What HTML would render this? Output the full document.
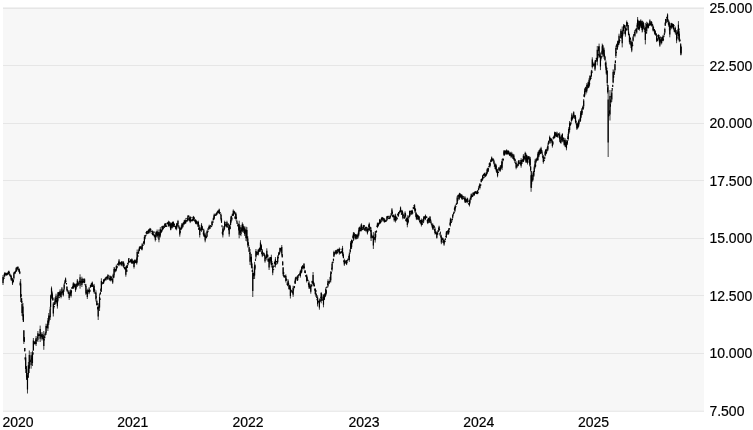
<!DOCTYPE html>
<html><head><meta charset="utf-8"><style>
html,body{margin:0;padding:0;background:#fff;width:753px;height:430px;overflow:hidden}
svg{display:block;will-change:transform}
text{font-family:"Liberation Sans",sans-serif;font-size:14px;fill:#000;stroke:#000;stroke-width:0.2}
</style></head><body>
<svg width="753" height="430" viewBox="0 0 753 430">
<rect x="3" y="7" width="701" height="1" fill="#f1f1f1"/><rect x="3" y="8" width="701" height="404" fill="#f7f7f7"/>
<rect x="3" y="8" width="701" height="1" fill="#e6e6e6"/><rect x="3" y="65" width="701" height="1" fill="#e6e6e6"/><rect x="3" y="123" width="701" height="1" fill="#e6e6e6"/><rect x="3" y="180" width="701" height="1" fill="#e6e6e6"/><rect x="3" y="238" width="701" height="1" fill="#e6e6e6"/><rect x="3" y="295" width="701" height="1" fill="#e6e6e6"/><rect x="3" y="353" width="701" height="1" fill="#e6e6e6"/><rect x="3" y="410" width="701" height="1" fill="#f2f2f2"/><rect x="3" y="411" width="701" height="1" fill="#ebebeb"/>
<path d="M3.00 275.00V285.00M3.45 279.17V279.92M3.91 276.36V278.96M4.36 273.50V277.00M4.81 272.00V276.66M5.27 274.00V274.89M5.72 272.66V274.90M6.17 273.13V275.36M6.63 273.36V275.43M7.08 272.60V275.30M7.53 272.76V274.66M7.99 272.40V274.60M8.44 271.21V274.36M8.89 270.50V274.00M9.35 271.99V273.40M9.80 273.05V276.16M10.25 274.88V276.27M10.71 274.95V276.70M11.16 274.80V280.70M11.61 277.53V279.21M12.07 278.67V281.09M12.52 278.00V285.00M12.97 281.09V282.73M13.43 279.42V281.67M13.88 272.60V279.60M14.33 271.72V273.54M14.79 272.20V274.17M15.24 271.23V273.73M15.69 270.86V272.00M16.15 267.30V272.00M16.60 268.86V271.40M17.05 266.72V269.12M17.51 266.97V268.14M17.96 266.20V270.04M18.41 269.42V270.38M18.87 270.35V271.50M19.32 268.40V272.60M19.77 271.36V274.15M20.23 281.24V285.72M20.68 279.00V302.00M21.13 294.07V296.91M21.59 297.93V302.93M22.04 301.00V316.00M22.49 308.62V309.56M22.95 303.00V320.00M23.40 314.24V321.94M23.85 330.00V344.00M24.31 337.00V342.00M24.76 347.97V351.77M25.21 357.21V360.37M25.67 353.50V373.00M26.12 366.29V369.04M26.57 366.00V380.00M27.02 375.88V379.45M27.48 373.00V393.50M27.93 375.09V377.32M28.38 362.00V378.00M28.84 367.12V368.96M29.29 350.50V373.00M29.74 360.97V361.57M30.20 360.87V361.89M30.65 359.56V361.65M31.10 352.00V368.70M31.56 357.79V358.71M32.01 358.26V360.16M32.46 350.70V366.00M32.92 352.08V354.80M33.37 338.00V350.59M33.82 341.08V344.25M34.28 342.08V343.13M34.73 342.59V343.77M35.18 340.88V344.66M35.64 339.23V341.06M36.09 336.00V346.00M36.54 339.98V340.74M37.00 339.79V340.87M37.45 336.96V338.34M37.90 331.00V342.00M38.36 334.87V336.12M38.81 333.81V335.83M39.26 334.36V335.95M39.72 333.99V334.86M40.17 325.60V342.00M40.62 332.68V333.43M41.08 333.94V336.31M41.53 335.39V336.95M41.98 332.00V340.50M42.44 334.26V337.56M42.89 337.09V338.73M43.34 338.29V340.27M43.80 331.00V349.80M44.25 339.06V340.45M44.70 336.11V338.45M45.16 332.61V335.77M45.61 332.29V333.46M46.06 323.70V335.00M46.52 325.93V327.95M46.97 325.77V328.07M47.42 323.76V326.70M47.88 318.00V331.00M48.33 321.02V323.59M48.78 313.00V325.00M49.24 316.95V320.77M49.69 315.95V317.51M50.14 306.80V320.00M50.60 295.60V310.00M51.05 294.09V298.47M51.50 286.50V295.60M51.96 290.79V296.30M52.41 293.50V300.00M52.86 297.51V300.84M53.32 302.00V316.50M53.77 306.92V308.83M54.22 306.03V306.90M54.68 301.42V305.24M55.13 297.00V304.00M55.58 298.38V300.74M56.04 293.70V304.00M56.49 298.12V299.15M56.94 299.75V302.61M57.40 297.40V308.60M57.85 292.40V302.29M58.30 291.92V294.78M58.76 292.46V297.14M59.21 296.66V298.19M59.66 291.78V295.61M60.12 289.20V297.00M60.57 293.77V295.35M61.02 291.90V298.40M61.48 292.08V293.43M61.93 287.00V295.00M62.38 291.34V292.50M62.84 290.70V292.14M63.29 290.00V296.50M63.74 288.78V291.70M64.20 283.30V290.00M64.65 282.24V283.93M65.10 279.90V283.01M65.56 277.50V282.80M66.01 280.61V281.48M66.46 282.95V284.73M66.92 286.00V291.40M67.37 289.16V291.49M67.82 290.21V291.81M68.28 290.77V293.69M68.73 292.99V293.93M69.18 290.30V300.00M69.64 294.23V295.57M70.09 294.36V295.46M70.54 289.70V294.10M71.00 289.50V297.50M71.45 290.33V293.24M71.90 287.00V288.73M72.35 286.94V288.76M72.81 285.78V287.03M73.26 282.30V288.76M73.71 282.66V287.38M74.17 284.65V287.09M74.62 283.63V285.93M75.07 285.13V288.31M75.53 283.90V291.90M75.98 286.04V289.76M76.43 283.25V287.56M76.89 283.97V285.76M77.34 279.00V287.00M77.79 283.29V284.79M78.25 284.10V285.62M78.70 281.90V284.46M79.15 280.64V281.91M79.61 281.42V282.47M80.06 274.30V288.70M80.51 281.74V283.30M80.97 280.73V281.95M81.42 281.80V282.72M81.87 276.70V287.00M82.33 281.34V283.28M82.78 278.44V282.98M83.23 278.55V279.89M83.69 279.49V282.43M84.14 281.50V283.36M84.59 278.30V283.00M85.05 283.88V285.31M85.50 285.18V286.96M85.95 283.90V295.00M86.41 291.46V293.99M86.86 290.10V291.08M87.31 288.70V299.00M87.77 292.57V293.38M88.22 290.04V292.03M88.67 290.33V291.97M89.13 287.00V294.30M89.58 290.85V291.95M90.03 289.72V291.62M90.49 284.67V288.02M90.94 285.03V287.16M91.39 282.89V285.37M91.85 283.64V287.00M92.30 281.50V287.00M92.75 285.38V286.60M93.21 284.58V285.98M93.66 286.40V291.79M94.11 283.90V293.50M94.57 289.12V290.75M95.02 292.52V293.92M95.47 292.62V293.43M95.93 290.30V301.50M96.38 296.67V297.91M96.83 299.59V305.62M97.29 303.48V304.97M97.74 306.91V309.71M98.19 303.00V320.00M98.65 306.38V309.04M99.10 304.59V305.55M99.55 293.50V311.00M100.01 298.14V299.90M100.46 292.03V294.52M100.91 288.55V291.61M101.37 278.30V292.00M101.82 283.64V284.46M102.27 282.25V284.26M102.73 281.79V282.62M103.18 282.66V283.76M103.63 279.00V283.90M104.09 279.42V281.50M104.54 279.26V281.50M104.99 278.23V279.81M105.45 277.44V279.61M105.90 278.85V280.84M106.35 276.73V278.88M106.81 276.68V277.38M107.26 277.38V278.30M107.71 274.30V280.00M108.17 276.41V277.11M108.62 274.76V275.69M109.07 276.72V280.04M109.53 278.39V280.62M109.98 275.44V277.01M110.43 276.64V280.48M110.89 275.90V281.50M111.34 276.38V277.84M111.79 276.79V280.04M112.25 279.30V280.55M112.70 277.50V283.90M113.15 273.64V277.28M113.61 275.78V278.39M114.06 267.00V277.50M114.51 267.49V270.71M114.97 270.31V272.55M115.42 269.01V271.08M115.87 269.09V271.83M116.33 264.60V271.00M116.78 266.34V268.93M117.23 266.27V267.57M117.68 263.70V265.05M118.14 263.12V265.46M118.59 261.72V264.55M119.04 259.00V266.20M119.50 261.95V263.96M119.95 262.96V264.96M120.40 262.95V264.30M120.86 262.05V263.75M121.31 261.40V266.20M121.76 261.40V263.05M122.22 261.40V262.98M122.67 263.04V266.42M123.12 261.40V264.47M123.58 261.40V267.80M124.03 263.28V266.36M124.48 266.74V269.35M124.94 267.20V267.80M125.39 267.83V269.56M125.84 267.00V276.70M126.30 265.75V270.17M126.75 269.04V272.05M127.20 264.70V268.24M127.66 262.64V264.29M128.11 263.21V265.33M128.56 258.20V263.18M129.02 258.34V259.59M129.47 261.06V261.67M129.92 261.78V262.56M130.38 259.49V261.87M130.83 259.00V262.20M131.28 260.93V262.28M131.74 258.40V264.00M132.19 258.90V263.11M132.64 262.80V263.40M133.10 261.15V263.95M133.55 260.56V262.71M134.00 260.60V268.60M134.46 260.45V264.00M134.91 259.20V263.20M135.36 259.87V263.14M135.82 261.61V262.90M136.27 260.52V261.48M136.72 257.40V264.60M137.18 249.50V262.40M137.63 253.74V257.28M138.08 255.77V256.51M138.54 250.41V253.83M138.99 248.54V251.16M139.44 246.30V251.20M139.90 247.46V248.91M140.35 245.92V247.94M140.80 246.49V249.02M141.26 246.20V247.82M141.71 247.92V250.11M142.16 243.10V250.30M142.62 244.78V245.96M143.07 244.20V245.71M143.52 241.16V244.21M143.98 242.53V243.59M144.43 235.10V244.70M144.88 236.94V239.53M145.34 234.93V236.94M145.79 234.93V236.27M146.24 232.03V234.50M146.70 231.10V234.30M147.15 230.75V233.16M147.60 233.09V234.10M148.06 230.32V232.77M148.51 229.69V233.52M148.96 228.94V231.26M149.42 229.49V230.50M149.87 227.90V233.50M150.32 228.21V230.80M150.78 228.64V230.58M151.23 230.79V231.64M151.68 230.95V232.49M152.14 232.97V234.32M152.59 230.30V235.11M153.04 233.03V235.61M153.50 233.49V235.41M153.95 231.54V233.08M154.40 234.54V237.52M154.86 235.16V236.59M155.31 232.70V241.50M155.76 239.01V239.66M156.22 231.57V234.59M156.67 231.77V236.91M157.12 229.50V238.30M157.58 233.46V235.98M158.03 231.83V233.72M158.48 232.94V235.54M158.94 229.50V242.30M159.39 235.38V236.32M159.84 233.14V236.55M160.30 227.10V237.50M160.75 229.39V231.70M161.20 230.48V233.20M161.66 229.30V231.98M162.11 226.03V231.31M162.56 228.02V230.06M163.01 225.50V229.50M163.47 227.70V228.66M163.92 225.58V227.46M164.37 227.42V228.03M164.83 223.57V226.78M165.28 223.10V227.12M165.73 223.12V225.10M166.19 225.06V226.81M166.64 225.59V226.76M167.09 222.59V224.09M167.55 222.54V223.93M168.00 223.33V224.47M168.45 220.70V226.30M168.91 224.77V226.98M169.36 221.27V224.95M169.81 223.68V226.26M170.27 226.29V227.77M170.72 222.30V230.30M171.17 222.64V228.18M171.63 224.01V226.35M172.08 225.14V228.54M172.53 221.76V227.17M172.99 221.62V223.72M173.44 221.50V227.10M173.89 225.75V227.29M174.35 223.27V225.70M174.80 225.98V226.74M175.25 225.96V226.92M175.71 225.74V229.51M176.16 225.67V228.51M176.61 223.10V230.30M177.07 222.80V227.34M177.52 223.18V225.13M177.97 219.90V225.50M178.43 225.24V227.31M178.88 227.45V228.68M179.33 227.13V228.23M179.79 225.50V236.70M180.24 230.60V232.96M180.69 228.45V230.20M181.15 227.21V230.07M181.60 224.99V228.64M182.05 223.10V228.70M182.51 223.99V226.06M182.96 224.08V227.41M183.41 222.02V224.33M183.87 224.30V225.13M184.32 220.32V224.30M184.77 220.63V221.68M185.23 219.10V223.90M185.68 220.64V223.47M186.13 217.88V218.78M186.59 219.76V221.92M187.04 220.24V221.26M187.49 218.14V221.39M187.95 215.00V220.70M188.40 215.56V216.86M188.85 215.61V216.40M189.31 217.92V221.21M189.76 216.45V221.14M190.21 216.70V223.10M190.67 216.58V218.42M191.12 219.37V221.39M191.57 220.54V221.14M192.03 217.45V218.40M192.48 219.15V221.39M192.93 218.74V221.05M193.39 215.90V220.70M193.84 216.57V219.04M194.29 217.09V219.27M194.75 218.94V221.33M195.20 220.91V222.55M195.65 219.10V223.90M196.11 220.28V224.31M196.56 220.66V222.55M197.01 221.32V224.54M197.47 222.94V224.40M197.92 224.08V226.73M198.37 220.70V227.10M198.83 225.63V229.83M199.28 227.53V229.78M199.73 224.70V237.50M200.19 228.95V230.56M200.64 229.47V230.39M201.09 227.79V228.89M201.55 223.10V231.90M202.00 226.43V227.47M202.45 226.22V230.36M202.91 228.96V230.02M203.36 231.54V234.93M203.81 228.70V236.70M204.27 233.38V236.39M204.72 235.53V237.12M205.17 232.70V242.30M205.63 235.66V237.79M206.08 236.07V237.57M206.53 236.59V238.08M206.99 230.30V236.74M207.44 231.61V232.88M207.89 228.22V232.43M208.34 227.83V229.71M208.80 226.75V228.55M209.25 224.70V229.50M209.70 226.42V228.46M210.16 227.05V228.49M210.61 225.12V227.09M211.06 225.74V227.28M211.52 226.21V226.81M211.97 220.70V226.30M212.42 223.89V224.49M212.88 220.65V223.07M213.33 217.60V220.24M213.78 215.50V219.82M214.24 213.50V219.10M214.69 215.18V215.85M215.14 214.92V215.87M215.60 213.46V215.82M216.05 214.13V215.94M216.50 212.60V215.00M216.96 212.00V214.64M217.41 211.25V212.91M217.86 210.49V213.60M218.32 209.96V213.28M218.77 210.78V212.83M219.22 208.60V213.34M219.68 211.93V214.29M220.13 212.15V213.01M220.58 214.26V215.23M221.04 213.50V220.70M221.49 218.53V223.04M221.94 225.49V227.21M222.40 231.36V233.83M222.85 226.30V237.50M223.30 230.29V231.84M223.76 229.53V230.84M224.21 226.13V229.86M224.66 220.70V228.70M225.12 221.92V223.54M225.57 223.57V226.08M226.02 225.44V226.27M226.48 223.72V227.52M226.93 220.70V227.10M227.38 223.93V224.53M227.84 225.60V227.63M228.29 223.08V226.26M228.74 226.84V230.46M229.20 224.70V236.70M229.65 224.62V228.39M230.10 226.19V229.37M230.56 219.80V225.38M231.01 215.90V223.10M231.46 215.66V217.61M231.92 216.83V220.65M232.37 213.42V215.96M232.82 214.35V216.13M233.28 209.40V215.90M233.73 211.45V214.55M234.18 210.69V212.55M234.64 211.25V213.68M235.09 215.94V218.97M235.54 212.60V216.66M236.00 212.60V220.70M236.45 216.69V218.84M236.90 219.81V223.93M237.36 222.49V223.55M237.81 224.42V226.63M238.26 223.37V225.78M238.72 224.71V230.69M239.17 220.70V238.30M239.62 226.11V229.69M240.08 229.80V233.12M240.53 233.74V235.12M240.98 225.00V236.20M241.44 228.30V229.96M241.89 229.94V231.50M242.34 222.30V231.90M242.80 223.79V225.56M243.25 225.00V233.00M243.70 226.81V229.77M244.16 227.35V230.24M244.61 226.30V235.90M245.06 231.82V232.85M245.52 229.52V231.84M245.97 226.60V241.00M246.42 234.41V238.25M246.88 227.10V241.50M247.33 236.36V238.62M247.78 236.20V247.50M248.24 242.03V245.46M248.69 245.15V246.32M249.14 246.75V252.10M249.60 252.55V254.02M250.05 249.00V265.00M250.50 256.86V259.43M250.96 257.48V259.17M251.41 253.90V268.30M251.86 262.55V268.29M252.32 269.81V272.01M252.77 266.70V297.00M253.22 276.35V278.94M253.67 273.11V276.70M254.13 271.38V274.29M254.58 261.90V279.00M255.03 264.29V269.83M255.49 258.60V260.94M255.94 249.00V258.70M256.39 253.07V255.51M256.85 251.49V254.70M257.30 253.67V254.67M257.75 251.70V254.60M258.21 249.00V255.50M258.66 249.36V252.24M259.11 248.36V250.84M259.57 247.44V251.97M260.02 248.20V252.09M260.47 240.20V251.50M260.93 243.94V246.54M261.38 245.40V250.64M261.83 251.13V254.07M262.29 249.00V257.10M262.74 253.93V255.67M263.19 254.52V255.86M263.65 252.48V254.08M264.10 253.34V255.02M264.55 254.56V257.11M265.01 255.50V262.70M265.46 258.04V258.81M265.91 255.79V258.30M266.37 253.95V258.07M266.82 248.30V260.30M267.27 254.29V256.85M267.73 254.19V257.27M268.18 258.23V261.88M268.63 260.65V261.25M269.09 257.10V270.00M269.54 257.78V262.25M269.99 261.74V263.95M270.45 256.95V261.76M270.90 258.18V261.89M271.35 254.70V267.50M271.81 261.13V262.11M272.26 262.70V264.47M272.71 263.50V275.20M273.17 266.58V267.71M273.62 268.84V270.17M274.07 265.01V267.01M274.53 261.95V264.42M274.98 260.82V262.02M275.43 257.10V267.50M275.89 262.29V264.89M276.34 261.12V262.12M276.79 260.87V262.10M277.25 261.61V264.26M277.70 255.50V263.50M278.15 255.33V258.61M278.61 252.40V256.09M279.06 251.79V253.04M279.51 252.12V254.52M279.97 247.50V253.10M280.42 249.57V250.42M280.87 247.88V249.17M281.33 248.50V250.82M281.78 245.00V255.50M282.23 253.68V257.44M282.69 260.96V265.49M283.14 267.18V276.00M283.59 271.88V276.29M284.05 275.09V277.41M284.50 275.82V277.51M284.95 275.48V277.55M285.41 275.47V277.20M285.86 274.40V282.50M286.31 278.29V280.61M286.77 278.99V280.22M287.22 282.07V285.03M287.67 284.00V285.79M288.13 279.30V286.50M288.58 282.57V284.75M289.03 284.61V289.68M289.49 285.39V288.48M289.94 284.81V289.77M290.39 285.70V298.50M290.85 289.11V292.65M291.30 290.19V291.18M291.75 290.26V291.56M292.21 291.19V293.09M292.66 291.53V293.41M293.11 285.70V296.90M293.57 289.15V290.77M294.02 286.39V288.48M294.47 285.95V288.15M294.93 280.52V284.04M295.38 277.60V284.00M295.83 277.09V279.16M296.29 276.65V278.39M296.74 277.90V278.50M297.19 277.66V281.00M297.65 275.20V280.91M298.10 275.28V277.62M298.55 274.57V275.90M299.00 274.01V276.07M299.46 274.00V274.60M299.91 272.52V274.40M300.36 269.60V277.60M300.82 270.76V272.51M301.27 270.49V273.52M301.72 266.40V272.80M302.18 266.81V268.82M302.63 265.29V267.67M303.08 266.12V268.64M303.54 265.94V266.78M303.99 263.20V269.60M304.44 266.35V268.29M304.90 270.27V273.03M305.35 270.58V273.26M305.80 275.17V276.56M306.26 274.88V277.34M306.71 274.40V282.50M307.16 276.69V280.88M307.62 279.63V281.12M308.07 279.68V280.66M308.52 282.66V285.21M308.98 280.90V288.90M309.43 284.00V286.55M309.88 285.99V288.84M310.34 285.95V288.56M310.79 284.00V293.70M311.24 284.57V286.78M311.70 284.52V285.41M312.15 280.70V283.89M312.60 281.60V283.51M313.06 272.00V286.50M313.51 281.41V285.15M313.96 282.72V285.89M314.42 284.68V286.41M314.87 288.41V290.80M315.32 288.54V295.30M315.78 289.91V292.56M316.23 292.88V297.03M316.68 297.00V298.02M317.14 298.34V300.50M317.59 295.30V306.50M318.04 300.30V302.72M318.50 301.01V301.93M318.95 301.11V302.72M319.40 298.50V309.70M319.86 299.97V302.07M320.31 298.74V301.50M320.76 296.62V298.24M321.22 292.10V303.30M321.67 294.06V297.55M322.12 295.84V299.46M322.58 299.35V300.40M323.03 299.14V300.88M323.48 294.50V307.30M323.94 294.36V296.81M324.39 295.61V300.07M324.84 293.43V297.41M325.30 293.98V297.00M325.75 287.30V295.55M326.20 289.99V293.96M326.66 287.03V288.31M327.11 286.08V287.50M327.56 283.52V285.08M328.02 279.30V287.30M328.47 282.01V283.17M328.92 281.66V282.26M329.38 280.59V284.07M329.83 280.51V282.19M330.28 276.67V281.21M330.74 271.20V282.50M331.19 271.50V273.85M331.64 267.71V269.48M332.10 261.90V271.50M332.55 262.32V263.58M333.00 261.00V263.15M333.46 258.75V260.86M333.91 250.70V257.10M334.36 253.13V255.20M334.82 252.79V254.25M335.27 251.29V253.64M335.72 250.09V252.32M336.18 249.90V254.72M336.63 251.37V253.56M337.08 249.54V251.74M337.54 250.21V253.71M337.99 248.67V251.33M338.44 250.76V251.36M338.90 249.33V251.68M339.35 247.50V254.70M339.80 248.46V249.70M340.26 251.50V253.77M340.71 251.77V253.83M341.16 252.05V253.21M341.62 250.97V252.94M342.07 248.60V250.83M342.52 245.90V256.30M342.98 252.44V253.95M343.43 253.50V258.38M343.88 260.10V262.38M344.33 258.70V265.90M344.79 260.96V263.63M345.24 260.84V262.40M345.69 261.43V263.82M346.15 259.93V262.04M346.60 260.23V265.10M347.05 261.29V262.82M347.51 259.53V260.93M347.96 258.63V260.54M348.41 258.28V259.80M348.87 255.83V257.86M349.32 252.30V261.90M349.77 252.74V253.73M350.23 249.17V252.55M350.68 241.00V249.39M351.13 242.40V247.53M351.59 239.40V249.00M352.04 240.92V243.44M352.49 240.22V242.67M352.95 235.21V238.02M353.40 232.10V241.00M353.85 232.20V240.20M354.31 232.75V234.64M354.76 234.85V237.55M355.21 233.98V234.85M355.67 234.50V239.40M356.12 234.57V239.40M356.57 234.59V236.89M357.03 236.64V239.06M357.48 234.72V237.36M357.93 233.70V238.60M358.39 231.41V235.40M358.84 228.20V236.20M359.29 227.08V229.87M359.75 226.50V232.10M360.20 228.37V230.03M360.65 229.83V231.32M361.11 224.09V229.84M361.56 223.30V231.30M362.01 226.91V227.68M362.47 227.31V230.04M362.92 228.82V230.24M363.37 224.90V229.70M363.83 225.05V226.81M364.28 225.35V227.60M364.73 227.68V230.83M365.19 226.95V229.41M365.64 226.97V227.80M366.09 226.50V232.10M366.55 227.05V227.90M367.00 227.50V228.36M367.45 228.10V234.50M367.91 229.81V231.92M368.36 228.04V230.83M368.81 224.39V228.71M369.27 222.50V228.23M369.72 226.20V230.95M370.17 226.83V229.76M370.63 230.05V231.73M371.08 227.30V241.00M371.53 233.31V236.29M371.99 234.95V237.48M372.44 236.24V238.20M372.89 237.25V237.85M373.35 232.10V249.00M373.80 238.19V240.06M374.25 237.13V238.90M374.71 237.23V238.07M375.16 231.30V242.60M375.61 231.22V238.21M376.07 230.79V232.58M376.52 230.57V232.49M376.97 225.33V227.00M377.43 222.50V228.10M377.88 223.38V226.90M378.33 222.99V226.38M378.79 222.98V224.51M379.24 222.14V224.32M379.69 219.30V224.10M380.15 218.85V223.65M380.60 220.40V223.20M381.05 220.87V221.98M381.51 217.75V220.33M381.96 216.90V221.70M382.41 217.11V219.01M382.87 217.41V219.52M383.32 219.15V220.91M383.77 218.01V219.82M384.23 219.64V222.41M384.68 218.50V222.50M385.13 220.40V221.77M385.59 220.10V221.78M386.04 220.48V221.47M386.49 220.28V221.17M386.95 216.09V220.90M387.40 215.98V218.39M387.85 215.86V217.65M388.31 215.75V217.10M388.76 216.95V219.08M389.21 218.07V219.17M389.66 216.50V218.79M390.12 215.30V218.50M390.57 215.20V216.98M391.02 213.29V214.73M391.48 214.35V215.60M391.93 208.10V214.64M392.38 211.59V213.49M392.84 214.54V217.37M393.29 214.64V216.49M393.74 215.29V217.43M394.20 214.50V221.70M394.65 219.17V220.16M395.10 217.58V220.24M395.56 213.70V222.50M396.01 219.05V220.67M396.46 216.48V219.06M396.92 218.46V219.66M397.37 217.47V218.60M397.82 213.70V215.45M398.28 213.31V216.90M398.73 211.86V215.33M399.18 212.10V213.55M399.64 210.63V212.40M400.09 210.63V212.92M400.54 206.50V212.10M401.00 210.48V212.07M401.45 213.53V214.95M401.90 209.78V213.82M402.36 210.83V214.08M402.81 212.10V219.30M403.26 214.37V216.22M403.72 214.95V215.67M404.17 215.67V218.71M404.62 216.35V218.13M405.08 211.30V218.50M405.53 213.20V216.11M405.98 218.81V221.37M406.44 218.13V221.97M406.89 217.44V218.91M407.34 215.30V227.30M407.80 218.63V221.01M408.25 218.84V223.46M408.70 216.30V218.75M409.16 215.31V217.26M409.61 210.50V216.90M410.06 212.25V216.23M410.52 211.13V212.18M410.97 210.51V212.81M411.42 210.56V214.90M411.88 210.68V212.18M412.33 209.70V214.50M412.78 212.62V213.49M413.24 207.18V208.99M413.69 206.79V209.24M414.14 204.97V207.38M414.60 204.10V210.50M415.05 208.11V213.01M415.50 208.69V211.34M415.96 211.81V217.16M416.41 213.41V220.10M416.86 214.22V217.48M417.32 214.42V217.25M417.77 216.49V219.99M418.22 215.37V219.79M418.68 217.21V219.15M419.13 216.10V220.90M419.58 220.68V222.26M420.04 219.71V223.32M420.49 220.14V222.75M420.94 220.37V223.98M421.40 218.50V226.50M421.85 220.31V222.19M422.30 223.08V225.00M422.76 218.94V222.95M423.21 222.31V223.23M423.66 216.10V222.50M424.12 217.00V219.65M424.57 216.07V218.24M425.02 216.26V218.04M425.48 214.50V220.10M425.93 216.35V216.95M426.38 216.48V218.08M426.84 216.89V217.51M427.29 219.82V222.52M427.74 218.50V224.10M428.20 222.28V223.15M428.65 217.65V221.53M429.10 218.59V222.16M429.56 219.15V222.93M430.01 216.10V222.50M430.46 219.10V220.77M430.92 219.68V223.57M431.37 223.49V225.05M431.82 223.43V225.73M432.28 225.81V227.78M432.73 223.30V229.70M433.18 226.84V229.91M433.64 225.03V226.30M434.09 225.78V228.17M434.54 229.05V231.00M434.99 227.30V234.50M435.45 230.93V233.61M435.90 232.13V234.26M436.35 233.58V234.48M436.81 231.30V238.60M437.26 231.84V234.55M437.71 233.05V234.78M438.17 230.13V232.41M438.62 228.17V229.97M439.07 225.70V231.30M439.53 228.97V230.27M439.98 233.27V235.83M440.43 231.50V233.31M440.89 234.30V237.43M441.34 235.40V244.20M441.79 237.55V240.82M442.25 238.09V240.09M442.70 237.48V239.78M443.15 238.21V243.08M443.61 239.70V241.47M444.06 238.95V245.80M444.51 241.74V242.41M444.97 240.49V242.24M445.42 238.57V240.00M445.87 235.97V237.19M446.33 231.30V237.80M446.78 231.02V235.01M447.23 231.17V232.13M447.69 230.30V232.68M448.14 232.16V234.33M448.59 228.10V234.65M449.05 230.76V232.48M449.50 228.21V230.29M449.95 222.46V225.72M450.41 217.70V226.50M450.86 218.96V220.69M451.31 221.73V223.12M451.77 219.69V221.61M452.22 218.43V220.10M452.67 214.50V218.50M453.13 213.80V216.08M453.58 212.95V214.11M454.03 211.56V213.48M454.49 207.95V210.49M454.94 205.70V212.10M455.39 204.86V208.65M455.85 206.01V207.30M456.30 202.94V205.09M456.75 203.39V204.22M457.21 196.00V204.10M457.66 199.32V201.14M458.11 194.78V199.05M458.57 194.79V195.94M459.02 196.59V199.78M459.47 192.80V198.40M459.93 193.03V196.31M460.38 194.36V197.60M460.83 194.44V196.55M461.29 195.42V198.26M461.74 194.20V199.00M462.19 195.72V200.00M462.65 196.00V196.66M463.10 196.00V197.37M463.55 196.35V198.61M464.01 197.94V199.31M464.46 198.26V199.75M464.91 196.00V202.50M465.37 198.41V202.72M465.82 199.17V201.93M466.27 199.03V201.80M466.73 200.87V202.28M467.18 197.60V203.30M467.63 197.96V200.19M468.09 200.13V201.88M468.54 203.36V204.32M468.99 203.38V204.68M469.45 199.20V206.50M469.90 199.92V203.93M470.35 197.74V199.46M470.81 195.95V200.13M471.26 193.40V198.20M471.71 194.99V196.92M472.17 194.93V196.87M472.62 194.93V197.14M473.07 192.46V195.68M473.53 193.30V194.13M473.98 192.01V195.03M474.43 191.80V195.80M474.89 191.69V193.82M475.34 191.33V193.47M475.79 191.10V192.87M476.25 190.88V193.87M476.70 192.21V194.19M477.15 192.33V193.75M477.61 190.18V194.20M478.06 192.02V193.28M478.51 187.46V190.43M478.97 186.10V187.96M479.42 184.75V186.60M479.87 183.00V189.40M480.32 184.74V186.03M480.78 184.46V185.89M481.23 179.01V182.21M481.68 178.39V179.43M482.14 178.82V181.05M482.59 174.90V179.70M483.04 176.86V179.16M483.50 173.90V176.36M483.95 177.27V178.16M484.40 173.03V175.53M484.86 172.50V177.30M485.31 174.11V176.75M485.76 174.37V176.15M486.22 172.26V175.54M486.67 172.23V174.86M487.12 168.50V174.10M487.58 167.76V171.08M488.03 168.81V172.13M488.48 167.58V170.81M488.94 165.70V166.96M489.39 162.92V165.56M489.84 162.10V167.70M490.30 162.66V165.88M490.75 159.84V162.46M491.20 158.98V160.06M491.66 156.50V161.73M492.11 158.67V160.55M492.56 159.03V161.14M493.02 158.55V159.31M493.47 159.31V160.69M493.92 159.70V164.50M494.38 164.99V166.38M494.83 162.71V166.57M495.28 164.68V169.25M495.74 163.77V167.58M496.19 164.50V171.70M496.64 169.00V173.09M497.10 168.73V172.26M497.55 169.30V177.30M498.00 171.25V172.57M498.46 172.29V172.89M498.91 167.28V170.72M499.36 168.47V169.48M499.82 168.58V171.43M500.27 165.30V171.70M500.72 167.41V169.28M501.18 164.99V168.93M501.63 161.43V165.22M502.08 158.90V170.10M502.54 162.18V163.17M502.99 158.49V161.44M503.44 159.12V160.20M503.90 150.00V155.70M504.35 152.36V155.53M504.80 150.15V154.32M505.26 151.72V152.65M505.71 150.30V153.91M506.16 153.78V154.38M506.62 149.30V154.14M507.07 150.98V152.99M507.52 150.63V154.44M507.98 150.28V153.23M508.43 150.59V153.85M508.88 150.89V154.90M509.34 152.93V155.20M509.79 153.08V156.09M510.24 152.49V155.23M510.70 152.62V155.26M511.15 151.70V158.10M511.60 155.11V156.43M512.06 152.48V156.69M512.51 154.24V155.13M512.96 153.74V158.98M513.42 156.26V159.11M513.87 154.10V160.50M514.32 158.16V159.56M514.78 158.22V163.15M515.23 159.12V160.90M515.68 161.57V164.04M516.14 161.30V169.30M516.59 164.88V167.28M517.04 165.92V167.90M517.50 163.69V165.30M517.95 164.76V166.39M518.40 160.50V165.37M518.86 160.24V162.27M519.31 163.13V164.39M519.76 161.61V163.81M520.22 160.76V161.41M520.67 161.55V165.32M521.12 158.10V167.70M521.58 162.45V164.06M522.03 159.40V164.04M522.48 159.71V160.83M522.94 159.13V161.31M523.39 154.10V162.10M523.84 155.93V160.46M524.30 156.73V158.57M524.75 156.73V158.48M525.20 151.70V161.30M525.65 152.79V156.30M526.11 157.81V162.78M526.56 154.30V158.72M527.01 157.36V162.07M527.47 155.70V164.50M527.92 157.38V160.50M528.37 156.02V159.52M528.83 156.18V159.69M529.28 160.28V162.78M529.73 156.50V166.10M530.19 157.00V167.00M530.64 165.83V171.45M531.09 171.00V191.80M531.55 171.00V188.00M532.00 180.40V181.51M532.45 178.42V180.74M532.91 173.30V181.30M533.36 171.13V174.83M533.81 171.22V176.96M534.27 165.69V172.08M534.72 164.28V166.72M535.17 158.90V168.50M535.63 164.75V167.08M536.08 158.39V163.31M536.53 158.87V161.69M536.99 157.49V160.07M537.44 156.35V160.62M537.89 152.50V160.50M538.35 151.64V156.25M538.80 154.32V157.30M539.25 149.91V154.83M539.71 150.37V153.28M540.16 148.30V152.18M540.61 151.08V154.17M541.07 146.80V153.59M541.52 149.88V150.91M541.97 150.18V153.22M542.43 152.73V156.93M542.88 156.25V158.37M543.33 154.90V163.70M543.79 158.69V161.58M544.24 159.88V160.90M544.69 156.52V159.19M545.15 150.82V156.36M545.60 149.30V155.70M546.05 149.06V151.75M546.51 151.26V153.88M546.96 148.21V152.00M547.41 146.84V148.63M547.87 144.40V150.90M548.32 142.46V145.00M548.77 140.36V143.02M549.23 142.27V143.82M549.68 135.60V142.00M550.13 137.94V139.10M550.59 137.96V143.47M551.04 139.42V140.85M551.49 138.42V141.75M551.95 141.34V143.12M552.40 139.60V147.60M552.85 141.41V145.09M553.31 136.94V139.39M553.76 135.76V137.98M554.21 135.56V138.69M554.67 131.60V138.13M555.12 132.01V136.27M555.57 133.38V136.08M556.03 133.08V137.12M556.48 134.27V136.81M556.93 131.60V136.51M557.39 134.56V136.70M557.84 135.24V137.88M558.29 133.11V136.28M558.75 133.34V135.22M559.20 136.71V137.72M559.65 132.40V141.20M560.11 139.84V142.41M560.56 140.16V142.95M561.01 135.70V143.80M561.47 138.36V140.01M561.92 134.92V138.01M562.37 133.20V142.20M562.83 137.55V140.65M563.28 139.59V142.33M563.73 137.36V140.51M564.19 139.64V145.70M564.64 139.84V142.71M565.09 138.10V147.10M565.55 141.20V147.04M566.00 143.38V146.47M566.45 139.80V150.30M566.91 142.08V144.11M567.36 139.88V145.10M567.81 136.14V139.15M568.27 132.40V140.60M568.72 128.25V134.22M569.17 126.96V128.17M569.62 121.00V132.40M570.08 122.39V126.00M570.53 122.87V125.19M570.98 121.95V124.28M571.44 117.41V121.81M571.89 112.90V121.00M572.34 116.69V119.53M572.80 115.57V118.49M573.25 115.88V117.45M573.70 111.30V116.42M574.16 116.15V117.74M574.61 114.78V119.06M575.06 115.12V116.53M575.52 115.30V123.50M575.97 120.69V123.07M576.42 122.98V125.36M576.88 122.70V130.00M577.33 125.77V128.54M577.78 122.70V128.59M578.24 122.33V127.60M578.69 119.40V126.70M579.14 120.81V124.10M579.60 118.85V120.64M580.05 117.49V118.55M580.50 112.90V121.90M580.96 111.00V118.20M581.41 112.98V115.21M581.86 108.00V115.09M582.32 111.46V112.60M582.77 105.64V109.76M583.22 106.39V109.53M583.68 99.00V108.00M584.13 94.25V96.94M584.58 89.40V97.40M585.04 87.97V91.66M585.49 86.76V90.32M585.94 87.68V94.51M586.40 87.46V91.59M586.85 83.00V92.60M587.30 84.12V88.88M587.76 85.09V87.78M588.21 81.60V88.28M588.66 82.58V87.90M589.12 78.10V86.69M589.57 80.72V84.70M590.02 75.34V81.24M590.48 76.25V79.57M590.93 75.94V78.67M591.38 70.10V76.58M591.84 69.79V73.32M592.29 57.30V68.50M592.74 61.65V65.07M593.20 63.91V65.51M593.65 63.62V66.36M594.10 63.45V66.71M594.56 63.86V65.47M595.01 60.50V70.90M595.46 59.90V67.58M595.92 60.11V61.74M596.37 57.71V60.50M596.82 57.96V61.07M597.28 46.00V65.30M597.73 55.98V59.15M598.18 54.19V55.93M598.64 46.25V51.24M599.09 43.60V57.41M599.54 54.70V56.07M600.00 54.34V57.61M600.45 52.50V70.10M600.90 56.47V60.62M601.36 55.87V57.92M601.81 50.73V54.40M602.26 43.60V57.30M602.72 44.77V48.03M603.17 46.41V51.93M603.62 51.39V56.10M604.08 47.60V58.90M604.53 53.64V56.94M604.98 56.23V60.51M605.44 62.27V66.30M605.89 60.50V70.10M606.34 66.29V74.79M606.80 67.40V69.71M607.25 70.10V86.20M607.70 84.88V93.50M608.16 85.00V157.00M608.61 113.60V116.84M609.06 114.17V115.68M609.52 110.04V113.92M609.97 90.00V120.50M610.42 104.24V107.03M610.88 98.98V103.49M611.33 94.28V97.31M611.78 90.00V101.90M612.24 88.16V91.36M612.69 84.65V86.87M613.14 69.30V83.30M613.60 74.54V78.04M614.05 70.16V74.04M614.50 71.92V75.01M614.96 63.50V71.60M615.41 60.29V63.33M615.86 45.60V58.00M616.31 51.71V53.24M616.77 43.59V47.26M617.22 44.04V49.76M617.67 40.90V47.44M618.13 40.35V44.81M618.58 42.00V45.23M619.03 33.70V44.40M619.49 38.85V42.80M619.94 40.57V41.31M620.39 36.09V37.99M620.85 28.90V38.50M621.30 32.53V33.73M621.75 34.88V38.75M622.21 26.50V47.40M622.66 32.16V36.55M623.11 29.63V30.74M623.57 24.10V32.50M624.02 32.18V33.34M624.47 24.68V28.38M624.93 30.22V33.22M625.38 25.30V36.70M625.83 29.05V31.25M626.29 27.86V30.35M626.74 20.50V27.70M627.19 22.08V26.08M627.65 23.53V24.87M628.10 24.98V31.30M628.55 29.44V35.16M629.01 34.29V35.58M629.46 33.70V44.40M629.91 37.82V39.55M630.37 37.57V40.23M630.82 39.48V45.60M631.27 41.85V48.34M631.73 43.20V52.20M632.18 41.61V46.74M632.63 43.56V46.05M633.09 36.10V41.60M633.54 35.30V36.84M633.99 33.79V35.51M634.45 32.28V33.34M634.90 30.10V37.30M635.35 29.67V31.64M635.81 28.83V29.43M636.26 28.11V31.01M636.71 27.70V33.70M637.17 22.89V29.57M637.62 17.00V28.90M638.07 20.26V26.53M638.53 26.41V29.77M638.98 20.70V26.37M639.43 21.70V30.70M639.89 20.76V26.78M640.34 20.60V23.51M640.79 19.30V26.50M641.25 24.50V28.29M641.70 22.03V26.35M642.15 20.50V32.50M642.61 22.99V31.71M643.06 22.37V26.63M643.51 21.70V28.90M643.97 25.34V28.43M644.42 27.75V30.17M644.87 27.62V32.26M645.33 22.90V44.40M645.78 31.32V33.12M646.23 32.27V33.59M646.69 21.70V33.70M647.14 24.98V27.86M647.59 22.54V25.15M648.05 22.90V28.83M648.50 24.69V27.63M648.95 24.73V25.51M649.41 22.92V25.59M649.86 19.30V24.76M650.31 22.99V25.10M650.77 23.35V25.67M651.22 21.19V24.21M651.67 21.70V26.50M652.13 23.92V26.52M652.58 24.22V26.34M653.03 25.30V31.36M653.49 26.59V28.75M653.94 28.95V31.24M654.39 29.01V32.94M654.85 30.10V34.90M655.30 31.26V34.33M655.75 33.00V35.69M656.21 33.38V35.95M656.66 34.30V42.10M657.11 39.92V41.42M657.57 38.00V40.81M658.02 35.20V36.88M658.47 34.30V39.70M658.93 34.89V36.07M659.38 36.79V42.67M659.83 36.10V46.80M660.29 39.37V43.46M660.74 36.93V38.63M661.19 38.91V42.28M661.64 37.90V44.40M662.10 36.97V39.80M662.55 36.96V40.38M663.00 34.90V41.33M663.46 38.62V39.66M663.91 35.34V37.25M664.36 32.51V35.31M664.82 27.70V33.70M665.27 22.37V25.77M665.72 18.89V24.10M666.18 19.84V22.98M666.63 16.73V18.34M667.08 18.76V20.26M667.54 13.40V21.70M667.99 19.33V22.44M668.44 22.88V24.71M668.90 20.50V26.50M669.35 22.43V30.41M669.80 22.90V37.30M670.26 25.93V27.69M670.71 25.35V30.28M671.16 22.90V26.18M671.62 22.90V28.90M672.07 23.49V27.02M672.52 24.29V27.65M672.98 23.88V26.71M673.43 24.10V30.10M673.88 24.88V26.26M674.34 29.63V32.17M674.79 27.36V29.82M675.24 26.50V33.70M675.70 29.93V33.76M676.15 33.89V34.79M676.60 30.10V43.20M677.06 34.23V38.90M677.51 30.80V34.34M677.96 29.19V30.95M678.42 21.10V39.70M678.87 28.14V32.77M679.32 31.30V42.18M679.78 38.69V40.72M680.23 40.52V41.39M680.68 43.20V55.20M681.14 46.20V55.20" stroke="#000" stroke-width="0.75" fill="none"/><path d="M3.00 277.00V283.00M3.45 279.56V280.16M3.91 277.79V278.72M4.36 273.91V275.93M4.81 272.93V275.96M5.27 274.20V274.80M5.72 273.15V274.72M6.17 273.83V274.87M6.63 274.52V275.15M7.08 273.14V274.76M7.53 273.33V273.93M7.99 273.54V274.14M8.44 271.58V273.93M8.89 271.20V273.30M9.35 271.99V272.59M9.80 273.91V275.37M10.25 275.64V276.24M10.71 276.18V276.78M11.16 275.98V279.52M11.61 277.87V278.89M12.07 279.04V280.43M12.52 279.40V283.60M12.97 281.57V282.17M13.43 279.70V281.67M13.88 273.33V278.20M14.33 272.11V273.04M14.79 272.62V273.29M15.24 271.45V272.70M15.69 270.78V271.38M16.15 268.24V271.06M16.60 269.89V271.10M17.05 267.08V268.88M17.51 267.38V267.98M17.96 266.97V269.74M18.41 269.34V269.94M18.87 270.53V271.50M19.32 269.24V271.76M19.77 271.41V273.41M20.23 282.84V285.26M20.68 283.60V297.40M21.13 294.50V296.33M21.59 298.17V302.57M22.04 304.00V313.00M22.49 308.52V309.12M22.95 306.40V316.60M23.40 314.55V321.79M23.85 330.56V341.20M24.31 337.17V341.73M24.76 348.00V350.97M25.21 357.47V359.21M25.67 357.40V369.10M26.12 366.76V368.40M26.57 368.80V377.20M27.02 376.25V379.21M27.48 377.10V389.40M27.93 375.17V377.06M28.38 365.20V374.80M28.84 367.19V368.70M29.29 355.00V368.50M29.74 361.00V361.60M30.20 361.16V361.84M30.65 360.48V361.08M31.10 355.34V365.36M31.56 358.14V358.74M32.01 358.29V359.23M32.46 353.76V362.94M32.92 352.42V354.52M33.37 340.52V350.41M33.82 341.19V344.21M34.28 342.48V343.08M34.73 343.32V343.92M35.18 341.46V343.45M35.64 340.38V340.99M36.09 338.00V344.00M36.54 340.05V340.65M37.00 339.79V340.39M37.45 337.27V337.87M37.90 333.20V339.80M38.36 335.34V335.94M38.81 334.85V335.75M39.26 335.04V335.76M39.72 334.32V334.92M40.17 328.88V338.72M40.62 332.79V333.39M41.08 334.72V336.22M41.53 335.89V336.52M41.98 333.70V338.80M42.44 335.80V337.16M42.89 337.65V338.64M43.34 338.83V339.61M43.80 334.76V346.04M44.25 339.33V340.24M44.70 336.40V337.89M45.16 333.68V335.34M45.61 332.78V333.38M46.06 325.96V332.74M46.52 326.36V327.92M46.97 326.94V327.54M47.42 324.06V326.43M47.88 320.60V328.40M48.33 321.83V323.00M48.78 315.40V322.60M49.24 317.51V318.87M49.69 315.98V316.58M50.14 309.44V317.36M50.60 298.48V307.12M51.05 295.08V298.43M51.50 288.32V293.78M51.96 292.16V296.19M52.41 294.80V298.70M52.86 297.80V300.32M53.32 303.41V313.60M53.77 307.23V307.83M54.22 306.22V306.89M54.68 302.44V304.92M55.13 298.40V302.60M55.58 298.52V299.73M56.04 295.76V301.94M56.49 298.28V298.88M56.94 300.62V302.40M57.40 299.64V306.36M57.85 294.38V300.70M58.30 292.22V293.80M58.76 293.16V295.92M59.21 297.26V297.89M59.66 292.17V295.47M60.12 290.76V295.44M60.57 294.56V295.16M61.02 293.20V297.10M61.48 292.42V293.02M61.93 288.60V293.40M62.38 291.78V292.38M62.84 291.59V292.19M63.29 291.30V295.20M63.74 289.79V291.64M64.20 284.54V288.66M64.65 282.99V283.59M65.10 280.44V282.73M65.56 278.56V281.74M66.01 280.92V281.52M66.46 282.95V284.00M66.92 287.08V290.37M67.37 289.75V290.35M67.82 290.72V291.32M68.28 292.00V293.56M68.73 293.16V293.76M69.18 292.24V298.06M69.64 294.49V295.18M70.09 294.46V295.06M70.54 292.06V293.99M71.00 291.10V295.90M71.45 290.48V292.37M71.90 288.14V288.74M72.35 286.99V287.97M72.81 286.23V287.03M73.26 283.59V288.42M73.71 284.27V286.02M74.17 285.24V286.71M74.62 283.75V285.65M75.07 285.41V287.37M75.53 285.50V290.30M75.98 286.38V288.76M76.43 284.41V285.65M76.89 284.19V284.79M77.34 280.60V285.40M77.79 283.66V284.26M78.25 284.28V285.41M78.70 282.51V284.11M79.15 280.93V281.53M79.61 281.40V282.00M80.06 277.18V285.82M80.51 281.65V282.25M80.97 281.25V281.85M81.42 281.61V282.21M81.87 278.76V284.94M82.33 281.90V282.94M82.78 280.59V282.21M83.23 279.35V279.95M83.69 280.39V281.97M84.14 282.28V282.88M84.59 279.24V282.46M85.05 284.22V284.82M85.50 285.21V285.81M85.95 286.12V293.43M86.41 292.12V293.08M86.86 290.49V291.09M87.31 290.76V296.94M87.77 292.93V293.53M88.22 290.11V291.09M88.67 290.40V291.90M89.13 288.46V292.84M89.58 291.31V291.91M90.03 290.39V291.31M90.49 284.97V286.90M90.94 285.33V286.96M91.39 283.46V284.85M91.85 284.19V286.49M92.30 282.60V285.90M92.75 286.29V286.89M93.21 285.24V285.84M93.66 287.47V290.61M94.11 285.82V292.08M94.57 289.18V290.33M95.02 292.42V293.02M95.47 292.83V293.43M95.93 292.54V299.26M96.38 296.62V297.22M96.83 301.08V305.02M97.29 303.62V304.59M97.74 306.92V309.06M98.19 306.40V316.60M98.65 307.09V308.11M99.10 304.81V305.41M99.55 297.00V307.50M100.01 298.79V299.71M100.46 292.44V294.28M100.91 288.64V291.47M101.37 281.04V289.26M101.82 283.65V284.25M102.27 283.19V283.79M102.73 282.18V282.78M103.18 282.84V283.44M103.63 279.98V282.92M104.09 280.30V280.90M104.54 279.54V280.79M104.99 278.83V279.43M105.45 277.65V278.44M105.90 279.04V279.88M106.35 276.86V278.68M106.81 276.78V277.38M107.26 277.64V278.24M107.71 275.44V278.86M108.17 276.48V277.08M108.62 274.97V275.57M109.07 277.43V278.46M109.53 278.43V279.07M109.98 276.10V276.70M110.43 277.18V279.65M110.89 277.02V280.38M111.34 277.27V277.87M111.79 278.66V279.96M112.25 279.54V280.14M112.70 278.78V282.62M113.15 274.80V276.94M113.61 276.25V277.66M114.06 269.10V275.40M114.51 269.08V269.79M114.97 270.39V271.61M115.42 269.25V270.54M115.87 269.11V269.71M116.33 265.88V269.72M116.78 267.10V268.09M117.23 266.54V267.14M117.68 263.83V264.43M118.14 264.65V265.33M118.59 262.52V263.79M119.04 260.44V264.76M119.50 262.54V263.14M119.95 262.99V263.84M120.40 262.93V263.53M120.86 262.20V263.13M121.31 262.36V265.24M121.76 261.65V262.25M122.22 261.92V262.52M122.67 263.36V264.32M123.12 262.02V262.62M123.58 262.68V266.52M124.03 264.51V265.66M124.48 267.02V268.73M124.94 267.15V267.75M125.39 267.90V269.46M125.84 268.94V274.76M126.30 265.99V268.87M126.75 269.91V271.75M127.20 265.10V267.94M127.66 263.22V263.92M128.11 263.62V264.22M128.56 259.20V262.73M129.02 258.38V258.98M129.47 261.07V261.67M129.92 261.78V262.38M130.38 259.87V261.13M130.83 259.64V261.56M131.28 260.98V261.67M131.74 259.52V262.88M132.19 260.29V262.68M132.64 262.64V263.24M133.10 261.90V262.50M133.55 261.11V261.71M134.00 262.20V267.00M134.46 261.74V262.93M134.91 260.00V262.95M135.36 261.37V262.24M135.82 261.94V262.54M136.27 261.03V261.63M136.72 258.84V263.16M137.18 252.08V259.82M137.63 255.17V255.77M138.08 255.74V256.34M138.54 251.43V253.47M138.99 249.59V250.76M139.44 247.28V250.22M139.90 247.44V248.04M140.35 246.65V247.25M140.80 247.95V248.67M141.26 246.85V247.82M141.71 248.15V249.37M142.16 244.54V248.86M142.62 245.11V245.71M143.07 244.94V245.54M143.52 241.87V242.92M143.98 242.62V243.56M144.43 237.02V242.78M144.88 237.06V238.77M145.34 235.95V236.55M145.79 235.32V235.92M146.24 232.33V233.12M146.70 231.74V233.66M147.15 231.05V231.90M147.60 233.38V233.98M148.06 231.77V232.75M148.51 230.50V233.28M148.96 229.75V230.54M149.42 229.65V230.39M149.87 229.02V232.38M150.32 229.03V229.63M150.78 229.45V230.05M151.23 230.84V231.44M151.68 230.96V231.56M152.14 233.14V234.06M152.59 231.26V234.84M153.04 233.58V234.78M153.50 234.62V235.22M153.95 231.62V232.65M154.40 234.66V236.80M154.86 235.91V236.51M155.31 234.46V239.74M155.76 238.88V239.48M156.22 231.67V234.11M156.67 232.31V235.37M157.12 231.26V236.54M157.58 233.72V235.28M158.03 232.46V233.06M158.48 233.89V234.51M158.94 232.06V239.74M159.39 235.64V236.24M159.84 233.91V235.10M160.30 229.18V235.42M160.75 230.26V230.86M161.20 231.44V232.46M161.66 229.98V231.49M162.11 226.33V228.43M162.56 228.28V229.68M163.01 226.30V228.77M163.47 227.95V228.55M163.92 225.88V226.78M164.37 227.37V227.97M164.83 223.87V226.04M165.28 223.90V227.09M165.73 224.00V224.91M166.19 225.67V226.27M166.64 226.05V226.65M167.09 222.88V223.63M167.55 222.62V223.88M168.00 223.67V224.27M168.45 221.82V225.67M168.91 224.89V225.49M169.36 222.31V223.62M169.81 223.78V225.85M170.27 226.73V227.33M170.72 223.90V229.70M171.17 223.07V227.27M171.63 224.35V224.95M172.08 226.54V227.71M172.53 222.51V226.01M172.99 221.90V222.50M173.44 222.62V225.98M173.89 225.78V226.57M174.35 223.89V225.40M174.80 226.10V226.70M175.25 225.91V226.51M175.71 226.51V228.82M176.16 226.44V227.67M176.61 224.54V228.86M177.07 223.66V226.36M177.52 223.66V224.26M177.97 221.02V224.38M178.43 225.52V226.46M178.88 227.39V227.99M179.33 227.63V228.23M179.79 227.74V234.46M180.24 231.29V232.46M180.69 228.75V229.82M181.15 227.51V229.12M181.60 226.64V228.34M182.05 223.45V227.58M182.51 224.76V225.68M182.96 225.14V226.58M183.41 222.54V224.13M183.87 224.46V225.06M184.32 220.62V224.02M184.77 220.84V221.44M185.23 220.06V222.94M185.68 220.88V223.17M186.13 218.07V218.67M186.59 220.33V220.93M187.04 220.74V221.34M187.49 219.33V220.29M187.95 216.14V220.21M188.40 216.04V216.64M188.85 215.79V216.39M189.31 218.33V220.43M189.76 217.29V220.14M190.21 217.72V221.82M190.67 217.52V218.12M191.12 219.45V221.36M191.57 220.50V221.10M192.03 217.50V218.10M192.48 219.20V220.41M192.93 218.76V220.75M193.39 216.86V219.74M193.84 217.70V218.99M194.29 218.70V219.30M194.75 220.05V221.21M195.20 221.13V221.73M195.65 220.06V222.94M196.11 221.58V223.63M196.56 221.14V221.74M197.01 221.33V223.23M197.47 223.50V224.10M197.92 225.76V226.36M198.37 221.98V225.82M198.83 227.90V229.83M199.28 228.66V229.26M199.73 227.26V234.94M200.19 229.04V230.06M200.64 229.94V230.54M201.09 227.79V228.39M201.55 224.86V230.14M202.00 226.45V227.05M202.45 227.50V228.80M202.91 229.12V229.72M203.36 232.67V233.66M203.81 230.30V235.16M204.27 234.57V235.93M204.72 235.72V236.71M205.17 234.62V240.38M205.63 236.37V236.97M206.08 236.57V237.17M206.53 237.58V238.18M206.99 231.59V236.74M207.44 231.84V232.70M207.89 231.19V231.92M208.34 228.88V229.48M208.80 227.32V228.24M209.25 225.66V228.54M209.70 226.95V227.55M210.16 227.88V228.48M210.61 225.32V225.92M211.06 226.16V226.98M211.52 226.23V226.83M211.97 221.82V225.18M212.42 223.84V224.44M212.88 221.57V222.57M213.33 218.14V220.13M213.78 218.03V219.52M214.24 214.62V217.98M214.69 215.15V215.75M215.14 214.87V215.47M215.60 214.90V215.50M216.05 214.76V215.36M216.50 212.94V214.52M216.96 213.31V214.46M217.41 211.55V212.73M217.86 211.28V212.60M218.32 211.29V212.67M218.77 211.21V212.45M219.22 209.55V212.39M219.68 212.56V213.79M220.13 212.56V213.16M220.58 214.49V215.09M221.04 214.94V219.26M221.49 218.57V222.53M221.94 225.61V226.21M222.40 232.04V233.63M222.85 228.54V235.26M223.30 230.83V231.50M223.76 230.17V230.77M224.21 226.22V229.64M224.66 222.30V227.10M225.12 221.93V222.53M225.57 224.36V224.96M226.02 225.46V226.25M226.48 224.60V225.93M226.93 221.98V225.82M227.38 223.85V224.45M227.84 225.96V227.41M228.29 224.15V225.47M228.74 227.70V229.90M229.20 227.10V234.30M229.65 225.18V228.04M230.10 226.40V228.98M230.56 220.04V224.89M231.01 217.34V221.66M231.46 216.27V217.39M231.92 218.27V219.20M232.37 214.24V215.13M232.82 214.94V215.82M233.28 210.70V215.59M233.73 213.51V214.42M234.18 211.24V211.84M234.64 211.93V213.41M235.09 216.79V218.38M235.54 213.68V215.30M236.00 214.22V219.08M236.45 217.14V218.56M236.90 221.23V222.15M237.36 222.79V223.39M237.81 224.93V225.65M238.26 224.23V225.01M238.72 226.11V229.64M239.17 224.22V234.78M239.62 227.02V229.49M240.08 230.28V232.85M240.53 233.91V234.51M240.98 227.24V233.96M241.44 228.94V229.54M241.89 230.06V230.66M242.34 224.22V229.98M242.80 224.33V224.93M243.25 225.96V231.40M243.70 228.01V228.70M244.16 228.57V229.32M244.61 228.22V233.98M245.06 231.75V232.35M245.52 230.49V231.75M245.97 229.48V238.12M246.42 235.19V237.24M246.88 229.98V238.62M247.33 236.90V237.94M247.78 238.46V245.24M248.24 242.60V245.30M248.69 245.44V246.24M249.14 247.17V251.75M249.60 252.93V253.79M250.05 252.20V261.80M250.50 258.03V259.04M250.96 257.68V259.11M251.41 256.78V265.42M251.86 263.71V267.56M252.32 270.32V271.71M252.77 272.76V290.94M253.22 277.67V278.81M253.67 273.31V276.19M254.13 273.07V273.88M254.58 265.32V275.58M255.03 265.14V268.45M255.49 259.55V260.46M255.94 250.94V256.76M256.39 253.72V254.32M256.85 252.08V253.36M257.30 254.01V254.61M257.75 253.85V254.45M258.21 250.30V254.20M258.66 250.53V251.70M259.11 250.04V250.64M259.57 248.24V249.78M260.02 248.62V250.07M260.47 242.46V249.24M260.93 244.50V246.33M261.38 245.52V249.88M261.83 252.17V253.90M262.29 250.62V255.48M262.74 254.43V255.11M263.19 254.75V255.35M263.65 252.71V253.65M264.10 253.59V254.19M264.55 254.56V256.20M265.01 256.94V261.26M265.46 258.03V258.63M265.91 257.46V258.06M266.37 255.19V257.37M266.82 250.70V257.90M267.27 255.16V255.76M267.73 254.99V256.69M268.18 258.74V261.43M268.63 260.50V261.10M269.09 258.99V267.42M269.54 259.05V261.20M269.99 261.89V262.58M270.45 257.02V259.95M270.90 258.90V260.93M271.35 257.26V264.94M271.81 261.22V261.82M272.26 262.75V263.70M272.71 265.84V272.86M273.17 267.24V267.84M273.62 268.94V269.54M274.07 266.10V266.70M274.53 262.05V263.77M274.98 261.53V262.13M275.43 259.18V265.42M275.89 263.29V264.67M276.34 261.30V261.90M276.79 260.90V261.50M277.25 262.36V263.04M277.70 257.10V261.90M278.15 257.01V257.98M278.61 253.21V254.94M279.06 252.46V253.06M279.51 252.97V254.22M279.97 247.93V251.98M280.42 249.60V250.30M280.87 247.92V249.14M281.33 248.97V250.47M281.78 247.10V253.40M282.23 254.37V257.36M282.69 261.73V265.31M283.14 267.40V274.24M283.59 272.10V274.18M284.05 275.19V277.21M284.50 276.26V276.86M284.95 275.65V276.25M285.41 276.01V276.72M285.86 276.02V280.88M286.31 278.88V280.31M286.77 279.68V280.28M287.22 283.60V284.73M287.67 284.89V285.49M288.13 280.74V285.06M288.58 283.36V284.24M289.03 285.67V288.99M289.49 285.43V288.01M289.94 286.79V289.29M290.39 288.26V295.94M290.85 290.66V291.78M291.30 290.56V291.16M291.75 290.72V291.32M292.21 291.75V292.52M292.66 291.61V292.67M293.11 287.94V294.66M293.57 289.49V290.09M294.02 286.69V287.73M294.47 286.24V287.52M294.93 281.41V282.75M295.38 278.54V282.72M295.83 277.52V278.26M296.29 276.73V277.33M296.74 277.99V278.59M297.19 278.28V280.29M297.65 276.34V280.04M298.10 276.58V277.60M298.55 274.85V275.45M299.00 274.39V275.00M299.46 274.15V274.75M299.91 273.26V273.97M300.36 270.96V276.00M300.82 271.25V271.85M301.27 271.52V272.51M301.72 266.85V271.52M302.18 267.96V268.72M302.63 265.59V266.94M303.08 266.87V268.18M303.54 266.02V266.62M303.99 263.78V268.32M304.44 266.90V267.79M304.90 270.44V272.76M305.35 272.35V272.97M305.80 275.34V276.25M306.26 276.05V276.65M306.71 275.46V280.88M307.16 277.48V280.71M307.62 280.09V280.69M308.07 280.01V280.61M308.52 283.10V284.80M308.98 282.50V287.30M309.43 284.98V285.58M309.88 286.02V288.37M310.34 286.91V287.83M310.79 285.94V291.76M311.24 284.88V286.58M311.70 284.84V285.44M312.15 280.99V282.79M312.60 281.75V283.09M313.06 274.90V283.60M313.51 282.06V284.15M313.96 283.18V284.93M314.42 285.01V286.13M314.87 288.80V290.50M315.32 288.66V293.95M315.78 289.96V291.93M316.23 294.04V296.64M316.68 297.32V297.92M317.14 298.89V299.86M317.59 297.54V304.26M318.04 300.96V302.18M318.50 301.23V301.83M318.95 301.18V301.78M319.40 300.74V307.46M319.86 301.10V301.70M320.31 299.68V300.59M320.76 297.50V298.10M321.22 292.92V301.06M321.67 294.30V295.74M322.12 297.45V298.44M322.58 299.57V300.21M323.03 299.59V300.38M323.48 297.06V304.74M323.94 295.47V296.76M324.39 296.56V299.84M324.84 293.54V296.57M325.30 293.99V295.76M325.75 288.95V295.26M326.20 290.36V293.23M326.66 287.42V288.02M327.11 286.77V287.37M327.56 283.70V284.79M328.02 280.90V285.70M328.47 282.11V282.71M328.92 281.82V282.42M329.38 281.58V282.46M329.83 281.11V281.71M330.28 277.11V280.03M330.74 273.46V280.24M331.19 271.88V273.74M331.64 268.82V269.42M332.10 263.82V269.58M332.55 262.39V262.99M333.00 262.24V262.87M333.46 258.75V260.76M333.91 251.98V256.54M334.36 253.55V254.42M334.82 253.42V254.02M335.27 252.03V252.98M335.72 250.66V251.26M336.18 250.86V253.76M336.63 252.46V253.06M337.08 250.17V250.89M337.54 251.97V252.81M337.99 248.93V250.36M338.44 250.78V251.38M338.90 250.13V250.73M339.35 248.94V253.26M339.80 249.06V249.66M340.26 251.65V252.68M340.71 251.77V252.37M341.16 252.45V253.07M341.62 251.32V252.30M342.07 248.94V249.56M342.52 247.98V254.22M342.98 252.20V252.80M343.43 254.25V257.89M343.88 260.63V261.77M344.33 260.14V264.46M344.79 261.40V262.28M345.24 261.80V262.40M345.69 262.07V262.84M346.15 260.26V261.67M346.60 261.12V264.13M347.05 261.86V262.46M347.51 259.89V260.49M347.96 258.70V259.30M348.41 258.78V259.38M348.87 256.27V257.83M349.32 254.15V259.98M349.77 253.22V253.82M350.23 249.41V252.24M350.68 242.68V248.98M351.13 242.91V247.40M351.59 240.02V247.08M352.04 241.45V243.34M352.49 241.10V241.70M352.95 236.37V237.68M353.40 233.86V239.22M353.85 233.80V238.60M354.31 233.25V233.85M354.76 235.07V235.94M355.21 234.07V234.67M355.67 235.39V238.42M356.12 234.87V238.43M356.57 234.77V236.40M357.03 238.15V238.76M357.48 235.89V236.87M357.93 234.68V237.62M358.39 232.78V235.27M358.84 229.80V234.60M359.29 227.57V229.14M359.75 227.62V230.98M360.20 228.53V229.50M360.65 229.96V231.06M361.11 225.62V229.23M361.56 224.90V229.70M362.01 226.97V227.57M362.47 229.16V229.76M362.92 229.51V230.11M363.37 225.86V228.74M363.83 225.39V226.66M364.28 225.20V225.80M364.73 228.17V230.53M365.19 228.14V228.74M365.64 227.25V227.85M366.09 227.62V230.98M366.55 227.21V227.81M367.00 227.47V228.07M367.45 228.76V233.22M367.91 230.83V231.56M368.36 228.79V230.01M368.81 225.14V227.07M369.27 223.65V227.08M369.72 228.29V230.33M370.17 227.10V228.95M370.63 230.10V231.41M371.08 230.04V238.26M371.53 234.51V235.70M371.99 236.00V236.60M372.44 236.73V237.58M372.89 237.24V237.84M373.35 235.48V245.62M373.80 238.50V239.85M374.25 237.68V238.49M374.71 237.52V238.12M375.16 233.56V240.34M375.61 234.02V237.34M376.07 231.74V232.34M376.52 230.76V231.65M376.97 226.51V227.11M377.43 223.62V226.98M377.88 224.10V225.89M378.33 224.14V225.60M378.79 223.14V224.32M379.24 222.17V222.77M379.69 219.61V223.14M380.15 220.35V221.99M380.60 221.55V222.90M381.05 221.16V221.76M381.51 217.79V219.58M381.96 217.86V220.74M382.41 217.72V218.73M382.87 217.68V219.19M383.32 219.59V220.19M383.77 218.31V219.29M384.23 219.92V222.11M384.68 219.30V221.70M385.13 221.01V221.61M385.59 220.68V221.78M386.04 220.63V221.23M386.49 220.58V221.18M386.95 216.39V219.94M387.40 216.73V218.26M387.85 216.16V217.05M388.31 216.40V217.00M388.76 218.00V218.81M389.21 218.51V219.11M389.66 218.29V218.89M390.12 215.94V217.86M390.57 215.95V216.55M391.02 213.64V214.29M391.48 214.56V215.16M391.93 209.41V214.34M392.38 211.82V213.43M392.84 215.06V217.07M393.29 215.39V215.99M393.74 216.12V216.72M394.20 215.94V220.26M394.65 219.40V220.00M395.10 219.00V219.60M395.56 215.46V220.74M396.01 219.17V220.38M396.46 217.26V218.07M396.92 218.65V219.36M397.37 218.15V218.75M397.82 214.00V214.99M398.28 213.47V216.18M398.73 212.11V213.70M399.18 212.71V213.31M399.64 211.40V212.00M400.09 210.79V212.10M400.54 207.62V210.98M401.00 210.80V211.40M401.45 213.57V214.41M401.90 210.54V213.58M402.36 211.23V213.86M402.81 213.54V217.86M403.26 214.95V215.55M403.72 214.79V215.39M404.17 216.77V218.50M404.62 217.24V217.84M405.08 212.74V217.06M405.53 214.17V215.53M405.98 219.49V221.06M406.44 219.00V220.37M406.89 217.94V218.67M407.34 217.70V224.90M407.80 219.07V220.79M408.25 220.25V222.34M408.70 217.34V218.33M409.16 215.59V216.94M409.61 210.99V215.62M410.06 212.90V214.81M410.52 211.19V212.12M410.97 210.77V211.93M411.42 212.05V213.71M411.88 210.68V211.73M412.33 210.66V213.54M412.78 212.73V213.33M413.24 207.48V208.16M413.69 207.26V208.71M414.14 205.27V206.01M414.60 205.38V209.22M415.05 208.76V211.49M415.50 209.33V210.59M415.96 212.73V216.86M416.41 214.75V218.76M416.86 214.88V215.88M417.32 215.08V217.12M417.77 217.68V219.10M418.22 215.62V218.51M418.68 217.68V218.28M419.13 216.53V219.94M419.58 220.82V221.63M420.04 220.38V220.98M420.49 220.18V220.84M420.94 221.78V223.58M421.40 220.10V224.90M421.85 220.69V221.29M422.30 223.42V224.61M422.76 220.43V222.34M423.21 222.23V222.83M423.66 217.38V221.22M424.12 217.59V218.83M424.57 217.00V217.85M425.02 216.92V217.88M425.48 215.62V218.98M425.93 216.38V216.98M426.38 217.23V217.83M426.84 216.85V217.45M427.29 220.40V221.00M427.74 219.62V222.98M428.20 222.12V222.72M428.65 217.95V220.19M429.10 219.42V221.64M429.56 219.77V221.47M430.01 216.82V221.22M430.46 219.76V220.36M430.92 221.44V222.88M431.37 223.45V224.05M431.82 224.48V225.43M432.28 226.07V227.18M432.73 224.58V228.42M433.18 227.46V228.38M433.64 225.14V225.74M434.09 226.01V227.84M434.54 229.41V230.65M434.99 228.74V233.06M435.45 232.06V232.98M435.90 232.95V234.09M436.35 233.47V234.07M436.81 232.76V237.81M437.26 232.37V234.39M437.71 233.41V234.24M438.17 230.31V231.99M438.62 228.30V228.97M439.07 226.82V230.18M439.53 228.99V229.86M439.98 233.30V234.59M440.43 232.59V233.19M440.89 235.47V237.42M441.34 237.16V242.44M441.79 238.66V239.80M442.25 238.83V240.08M442.70 238.49V239.29M443.15 240.59V242.85M443.61 240.11V241.22M444.06 240.32V244.43M444.51 241.64V242.24M444.97 240.66V241.80M445.42 238.62V239.75M445.87 236.20V236.80M446.33 232.60V237.46M446.78 231.75V234.95M447.23 231.52V232.12M447.69 230.76V231.36M448.14 232.52V233.61M448.59 229.41V233.74M449.05 230.97V231.57M449.50 228.30V228.90M449.95 223.66V224.40M450.41 219.46V224.74M450.86 218.82V219.42M451.31 221.84V222.82M451.77 220.41V221.61M452.22 218.68V220.09M452.67 215.30V217.70M453.13 214.50V215.10M453.58 213.05V214.05M454.03 211.65V213.11M454.49 208.25V210.10M454.94 206.98V210.82M455.39 206.92V208.22M455.85 206.01V206.61M456.30 204.21V204.90M456.75 203.16V203.76M457.21 197.62V203.61M457.66 200.10V200.70M458.11 195.08V196.90M458.57 194.81V195.41M459.02 197.25V199.48M459.47 193.44V197.28M459.93 193.50V195.19M460.38 194.80V197.33M460.83 194.48V196.05M461.29 196.16V197.81M461.74 194.86V198.04M462.19 195.98V199.14M462.65 195.85V196.45M463.10 195.95V196.55M463.55 198.12V198.72M464.01 198.14V198.74M464.46 199.02V199.73M464.91 197.30V201.20M465.37 198.51V202.42M465.82 199.60V201.45M466.27 199.91V200.51M466.73 201.08V201.68M467.18 198.74V202.16M467.63 199.30V199.90M468.09 200.86V201.57M468.54 203.53V204.13M468.99 203.46V204.06M469.45 200.66V205.27M469.90 200.09V202.86M470.35 197.80V198.94M470.81 198.00V199.83M471.26 194.36V197.84M471.71 196.20V196.80M472.17 196.03V196.63M472.62 195.67V196.84M473.07 192.76V195.64M473.53 193.39V194.02M473.98 193.20V194.68M474.43 192.60V195.00M474.89 191.86V193.22M475.34 191.76V193.12M475.79 191.40V192.35M476.25 192.16V193.44M476.70 193.39V193.99M477.15 193.03V193.63M477.61 190.48V193.40M478.06 192.43V193.03M478.51 188.20V189.92M478.97 186.40V187.23M479.42 185.55V186.15M479.87 184.28V188.12M480.32 185.25V185.85M480.78 184.56V185.16M481.23 179.31V182.13M481.68 178.88V179.48M482.14 179.76V180.40M482.59 175.86V179.61M483.04 177.25V177.85M483.50 174.20V175.82M483.95 177.37V177.97M484.40 173.30V174.84M484.86 173.46V176.34M485.31 175.58V176.45M485.76 175.70V176.30M486.22 173.97V175.54M486.67 173.07V174.06M487.12 169.62V172.98M487.58 169.28V169.88M488.03 169.95V171.77M488.48 168.15V169.75M488.94 166.33V166.93M489.39 163.22V165.03M489.84 163.22V166.58M490.30 163.81V164.55M490.75 160.22V162.11M491.20 159.41V160.01M491.66 157.55V161.43M492.11 159.48V160.08M492.56 159.10V159.70M493.02 158.40V159.00M493.47 159.62V160.41M493.92 160.66V163.54M494.38 165.94V166.54M494.83 163.65V166.00M495.28 165.11V168.95M495.74 165.26V167.55M496.19 165.94V170.26M496.64 169.00V171.61M497.10 170.65V171.25M497.55 170.90V175.70M498.00 171.84V172.44M498.46 172.28V172.88M498.91 167.58V170.47M499.36 168.98V169.58M499.82 168.67V169.27M500.27 166.58V170.42M500.72 168.12V168.72M501.18 165.05V167.70M501.63 164.27V164.87M502.08 161.14V167.86M502.54 162.74V163.34M502.99 158.54V160.59M503.44 159.33V159.93M503.90 151.14V154.56M504.35 153.32V155.23M504.80 150.66V154.14M505.26 151.57V152.17M505.71 151.04V152.86M506.16 153.87V154.47M506.62 150.27V153.85M507.07 151.11V152.07M507.52 152.89V154.14M507.98 151.98V153.22M508.43 150.96V152.11M508.88 151.69V154.10M509.34 153.47V154.28M509.79 154.24V155.69M510.24 152.84V154.22M510.70 154.23V155.22M511.15 152.98V156.82M511.60 155.65V156.25M512.06 155.51V156.11M512.51 154.45V155.05M512.96 154.80V158.49M513.42 157.31V158.22M513.87 155.38V159.22M514.32 158.55V159.40M514.78 159.22V160.77M515.23 160.01V160.78M515.68 163.11V163.82M516.14 162.90V167.70M516.59 164.86V165.46M517.04 165.99V166.59M517.50 164.66V165.29M517.95 164.95V166.09M518.40 161.47V164.39M518.86 160.54V161.63M519.31 163.34V163.94M519.76 162.10V162.70M520.22 160.52V161.12M520.67 162.55V164.27M521.12 160.02V165.78M521.58 162.69V163.64M522.03 160.14V162.34M522.48 159.96V160.56M522.94 159.41V160.01M523.39 155.70V161.83M523.84 156.20V159.69M524.30 156.71V157.31M524.75 157.11V157.71M525.20 153.12V159.38M525.65 153.33V154.07M526.11 158.24V162.48M526.56 155.09V157.87M527.01 157.69V160.74M527.47 157.46V162.74M527.92 158.51V159.11M528.37 156.39V158.85M528.83 156.51V158.91M529.28 160.41V162.70M529.73 158.33V164.18M530.19 159.00V165.00M530.64 166.63V170.45M531.09 175.16V187.64M531.55 174.40V184.60M532.00 180.73V181.43M532.45 179.44V180.04M532.91 174.90V179.70M533.36 171.86V174.74M533.81 172.31V175.79M534.27 167.30V171.91M534.72 166.14V166.74M535.17 160.82V166.83M535.63 164.82V165.42M536.08 159.87V161.11M536.53 159.53V160.23M536.99 158.39V159.73M537.44 158.29V160.10M537.89 154.10V160.17M538.35 151.83V156.18M538.80 154.45V156.45M539.25 150.21V154.74M539.71 150.52V152.69M540.16 149.35V151.22M540.61 151.82V153.87M541.07 148.16V153.59M541.52 150.12V150.72M541.97 151.41V152.73M542.43 153.91V154.51M542.88 156.36V157.70M543.33 156.66V161.94M543.79 159.23V159.83M544.24 160.05V160.65M544.69 157.14V158.82M545.15 151.72V155.31M545.60 150.07V154.42M546.05 150.17V150.77M546.51 151.90V153.15M546.96 149.09V151.01M547.41 147.32V147.94M547.87 145.70V149.60M548.32 142.76V144.29M548.77 141.08V142.76M549.23 142.15V142.75M549.68 136.88V140.72M550.13 138.27V138.87M550.59 138.60V141.08M551.04 139.99V140.61M551.49 139.00V140.67M551.95 141.64V142.24M552.40 141.20V146.00M552.85 141.43V144.24M553.31 137.05V138.59M553.76 137.07V137.67M554.21 136.77V137.96M554.67 132.91V137.83M555.12 132.10V134.69M555.57 134.33V135.27M556.03 133.78V135.78M556.48 136.02V136.62M556.93 132.58V135.97M557.39 135.34V136.67M557.84 135.76V136.36M558.29 134.17V134.99M558.75 133.83V134.71M559.20 136.76V137.36M559.65 134.16V139.44M560.11 141.12V142.11M560.56 142.43V143.03M561.01 136.87V142.18M561.47 139.10V139.70M561.92 135.35V136.63M562.37 134.04V140.40M562.83 137.79V140.19M563.28 140.24V140.84M563.73 138.01V138.70M564.19 140.53V144.84M564.64 139.93V141.28M565.09 139.67V145.30M565.55 144.05V145.02M566.00 144.58V145.18M566.45 141.90V148.20M566.91 142.74V143.91M567.36 140.96V143.03M567.81 137.73V139.06M568.27 134.04V138.96M568.72 128.66V133.71M569.17 127.28V127.96M569.62 123.28V130.12M570.08 123.66V125.57M570.53 124.10V124.70M570.98 122.71V123.48M571.44 117.47V120.71M571.89 114.52V119.38M572.34 117.58V119.23M572.80 116.90V118.49M573.25 116.96V117.56M573.70 112.32V116.42M574.16 116.60V117.20M574.61 115.84V116.44M575.06 115.80V116.40M575.52 116.69V121.86M575.97 120.82V122.57M576.42 124.31V124.91M576.88 124.16V128.54M577.33 126.10V127.82M577.78 123.55V127.31M578.24 125.01V126.56M578.69 120.86V125.60M579.14 121.40V122.36M579.60 119.88V120.59M580.05 118.00V118.60M580.50 114.70V120.71M580.96 111.30V117.38M581.41 113.05V113.80M581.86 109.42V114.68M582.32 111.50V112.21M582.77 107.01V109.25M583.22 108.32V109.23M583.68 100.48V106.20M584.13 94.56V96.67M584.58 91.00V95.89M585.04 88.57V90.39M585.49 86.95V87.55M585.94 89.50V92.21M586.40 90.02V90.86M586.85 84.92V90.68M587.30 85.64V86.44M587.76 86.24V86.84M588.21 82.31V85.80M588.66 83.30V87.60M589.12 79.82V85.96M589.57 82.88V84.36M590.02 75.64V80.00M590.48 78.40V79.24M590.93 78.08V78.68M591.38 71.40V76.58M591.84 71.20V72.99M592.29 59.54V67.11M592.74 62.29V64.16M593.20 64.28V65.28M593.65 64.93V65.53M594.10 64.50V65.38M594.56 64.33V64.93M595.01 62.58V69.60M595.46 60.30V65.55M595.92 61.07V61.67M596.37 58.03V58.78M596.82 59.77V60.37M597.28 49.86V61.44M597.73 57.28V57.88M598.18 54.35V55.11M598.64 46.90V51.11M599.09 46.36V56.57M599.54 55.52V56.12M600.00 55.44V57.35M600.45 56.02V66.58M600.90 57.68V59.09M601.36 56.61V57.34M601.81 52.71V53.31M602.26 46.34V54.56M602.72 45.07V47.57M603.17 48.15V51.78M603.62 51.76V53.75M604.08 49.86V56.64M604.53 54.94V55.54M604.98 56.54V60.33M605.44 62.83V65.24M605.89 62.42V68.18M606.34 67.95V73.42M606.80 68.31V69.13M607.25 70.87V82.98M607.70 87.37V92.12M608.16 99.40V142.60M608.61 114.36V114.96M609.06 114.94V115.54M609.52 111.00V113.34M609.97 96.10V114.40M610.42 104.37V106.18M610.88 100.27V102.27M611.33 96.14V97.20M611.78 92.38V99.52M612.24 88.27V89.44M612.69 85.21V86.78M613.14 72.10V82.40M613.60 75.85V77.41M614.05 71.49V72.56M614.50 72.03V72.65M614.96 64.28V69.98M615.41 60.72V63.01M615.86 48.08V56.01M616.31 51.99V52.66M616.77 44.57V46.84M617.22 45.92V49.46M617.67 42.21V46.93M618.13 41.11V43.90M618.58 44.03V44.84M619.03 35.84V43.31M619.49 40.07V40.76M619.94 40.50V41.10M620.39 37.01V37.61M620.85 30.82V36.58M621.30 33.09V33.69M621.75 34.90V37.36M622.21 30.68V43.22M622.66 32.43V35.50M623.11 30.06V30.66M623.57 25.78V31.12M624.02 32.89V33.49M624.47 24.98V27.61M624.93 31.68V32.37M625.38 27.58V34.42M625.83 29.85V30.53M626.29 28.55V30.35M626.74 21.94V26.26M627.19 22.65V24.14M627.65 23.38V23.98M628.10 24.98V30.04M628.55 31.45V34.85M629.01 34.67V35.27M629.46 35.84V42.26M629.91 38.99V39.59M630.37 37.87V39.07M630.82 40.71V44.38M631.27 44.18V48.04M631.73 45.00V50.40M632.18 41.70V44.42M632.63 45.15V45.95M633.09 37.20V40.72M633.54 35.15V35.75M633.99 34.09V35.16M634.45 32.49V33.09M634.90 31.54V35.86M635.35 30.16V30.76M635.81 28.91V29.51M636.26 29.78V30.48M636.71 28.90V32.61M637.17 24.77V27.34M637.62 19.38V26.52M638.07 23.77V24.78M638.53 26.45V29.47M638.98 21.00V26.11M639.43 23.50V28.96M639.89 21.33V26.29M640.34 21.40V22.25M640.79 20.74V25.06M641.25 25.07V27.99M641.70 22.93V26.11M642.15 20.88V30.10M642.61 23.59V29.85M643.06 23.48V24.08M643.51 23.14V27.46M643.97 26.42V27.02M644.42 28.81V29.41M644.87 30.95V31.58M645.33 27.20V40.10M645.78 32.61V33.21M646.23 32.31V33.02M646.69 24.10V31.30M647.14 25.11V26.85M647.59 23.50V24.10M648.05 24.09V27.64M648.50 24.80V27.63M648.95 25.09V25.69M649.41 24.40V25.58M649.86 20.39V24.46M650.31 23.18V24.44M650.77 24.10V25.24M651.22 21.49V23.35M651.67 22.19V25.54M652.13 24.13V24.81M652.58 24.52V25.24M653.03 26.51V30.29M653.49 26.89V28.66M653.94 29.07V30.68M654.39 29.31V31.33M654.85 30.21V33.94M655.30 31.34V33.15M655.75 33.49V34.80M656.21 33.68V35.02M656.66 35.86V40.54M657.11 40.05V40.65M657.57 39.33V40.81M658.02 35.11V35.71M658.47 35.38V38.62M658.93 35.04V35.64M659.38 37.44V41.43M659.83 38.24V45.38M660.29 39.97V41.36M660.74 36.82V37.42M661.19 39.22V41.77M661.64 39.20V43.10M662.10 37.27V39.15M662.55 38.53V39.59M663.00 36.19V41.03M663.46 38.91V39.66M663.91 35.95V36.55M664.36 33.42V34.72M664.82 28.90V32.50M665.27 22.67V25.69M665.72 18.89V23.06M666.18 20.22V21.52M666.63 17.39V18.22M667.08 18.86V19.46M667.54 14.40V20.04M667.99 19.60V22.20M668.44 23.27V24.37M668.90 21.70V25.30M669.35 24.50V26.99M669.80 25.78V34.42M670.26 26.37V26.97M670.71 25.70V27.50M671.16 23.84V24.44M671.62 24.10V27.70M672.07 23.53V26.42M672.52 25.45V26.66M672.98 24.44V25.06M673.43 24.27V28.90M673.88 25.18V26.19M674.34 30.05V31.87M674.79 29.12V29.72M675.24 27.94V32.26M675.70 31.64V32.62M676.15 34.12V34.72M676.60 32.72V40.58M677.06 36.88V37.61M677.51 32.05V33.96M677.96 29.66V30.26M678.42 24.82V35.98M678.87 28.83V30.25M679.32 33.48V40.78M679.78 39.18V39.79M680.23 40.49V41.09M680.68 44.14V52.80M681.14 46.90V53.40" stroke="#000" stroke-width="1.2" fill="none"/>
<text x="709.4" y="13.0">25.000</text><text x="709.4" y="70.6">22.500</text><text x="709.4" y="128.1">20.000</text><text x="709.4" y="185.7">17.500</text><text x="709.4" y="243.3">15.000</text><text x="709.4" y="300.9">12.500</text><text x="709.4" y="358.4">10.000</text><text x="709.4" y="416.0">7.500</text><text x="2.4" y="427">2020</text><text x="117.2" y="427">2021</text><text x="232.4" y="427">2022</text><text x="348.4" y="427">2023</text><text x="463.2" y="427">2024</text><text x="578.0" y="427">2025</text>
</svg>
</body></html>
